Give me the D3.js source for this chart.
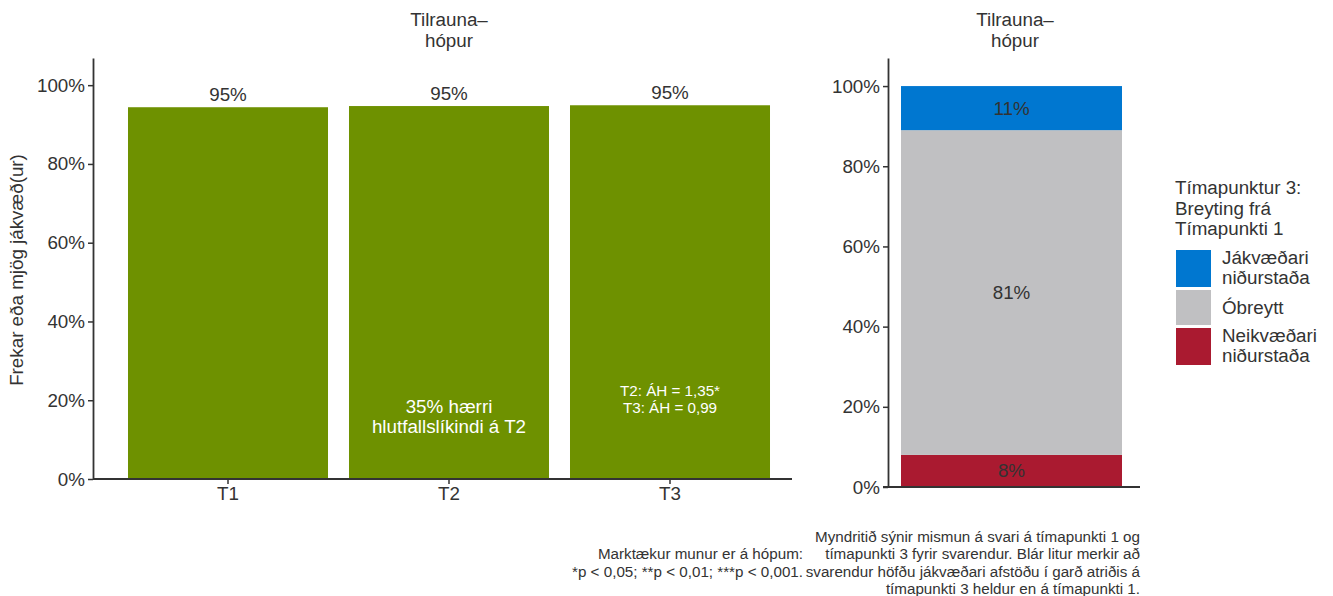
<!DOCTYPE html>
<html>
  <head>
    <meta charset="utf-8">
    <title>Tilraunahópur</title>
    <script src="https://cdnjs.cloudflare.com/ajax/libs/d3/7.8.5/d3.min.js"></script>
    <style>
      body { margin: 0; background: #fff; }
      text { font-family: "Liberation Sans", Arial, sans-serif; fill: #333; }
    </style>
  </head>
  <body>
    <script>
      // data
      var timepoints = ["T1", "T2", "T3"];
      var positiveShare = [0.944, 0.947, 0.949];
      var barLabels = ["95%", "95%", "95%"];
      var yTicks = [0, 0.2, 0.4, 0.6, 0.8, 1.0];

      var changeCats = ["Neikvæðari niðurstaða", "Óbreytt", "Jákvæðari niðurstaða"];
      var changeValues = [0.08, 0.81, 0.11];
      var changeLabels = ["8%", "81%", "11%"];
      var changeColors = ["#aa1a30", "#c0c0c2", "#0077d0"];
      var legendOrder = [2, 1, 0];

      var FS = "18.8px";

      var svg = d3.select("body").append("svg")
        .attr("width", 1333)
        .attr("height", 596);

      var pct = d3.format(".0%");

      // ---- left panel
      var x = d3.scaleBand().domain(timepoints)
        .range([117.5, 780.5]).paddingInner(0.095).paddingOuter(0.0475);
      var y = d3.scaleLinear().domain([0, 1.069]).range([479, 58]);

      var left = svg.append("g");
      left.selectAll("rect").data(timepoints).enter().append("rect")
        .attr("x", function (d) { return x(d); })
        .attr("width", x.bandwidth())
        .attr("y", function (d, i) { return y(positiveShare[i]); })
        .attr("height", function (d, i) { return y(0) - y(positiveShare[i]); })
        .attr("fill", "#6e9100");

      left.selectAll("text.val").data(timepoints).enter().append("text")
        .attr("class", "val")
        .attr("x", function (d) { return x(d) + x.bandwidth() / 2; })
        .attr("y", function (d, i) { return y(positiveShare[i]) - 6; })
        .attr("text-anchor", "middle")
        .style("font-size", FS)
        .text(function (d, i) { return barLabels[i]; });

      svg.append("g").attr("transform", "translate(93,0)")
        .call(d3.axisLeft(y).tickValues(yTicks).tickFormat(pct).tickSize(5).tickSizeOuter(0));
      var xAxisL = svg.append("g").attr("transform", "translate(0,479)")
        .call(d3.axisBottom(x).tickSize(5).tickSizeOuter(0));
      xAxisL.select(".domain").attr("d", "M93,0H792");

      // annotations inside bars
      var ann = svg.append("g");
      ann.append("text").attr("x", x("T2") + x.bandwidth() / 2).attr("y", 413)
        .attr("text-anchor", "middle").style("font-size", FS).style("fill", "#fff")
        .text("35% hærri");
      ann.append("text").attr("x", x("T2") + x.bandwidth() / 2).attr("y", 433)
        .attr("text-anchor", "middle").style("font-size", FS).style("fill", "#fff")
        .text("hlutfallslíkindi á T2");
      ann.append("text").attr("x", x("T3") + x.bandwidth() / 2).attr("y", 396)
        .attr("text-anchor", "middle").style("font-size", "15.2px").style("fill", "#fff")
        .text("T2: ÁH = 1,35*");
      ann.append("text").attr("x", x("T3") + x.bandwidth() / 2).attr("y", 413)
        .attr("text-anchor", "middle").style("font-size", "15.2px").style("fill", "#fff")
        .text("T3: ÁH = 0,99");

      // titles
      function title(cx) {
        var t = svg.append("text").attr("text-anchor", "middle").style("font-size", FS);
        t.append("tspan").attr("x", cx).attr("y", 26).text("Tilrauna–");
        t.append("tspan").attr("x", cx).attr("y", 47).text("hópur");
      }
      title(449);
      title(1015);

      svg.append("text")
        .attr("transform", "translate(23,270) rotate(-90)")
        .attr("text-anchor", "middle")
        .style("font-size", FS)
        .text("Frekar eða mjög jákvæð(ur)");

      // ---- right panel (stacked)
      var yr = d3.scaleLinear().domain([0, 1.07]).range([487, 58]);

      var stackData = [{}];
      changeCats.forEach(function (c, i) { stackData[0][c] = changeValues[i]; });
      var series = d3.stack().keys(changeCats)(stackData);

      var right = svg.append("g");
      right.selectAll("rect").data(series).enter().append("rect")
        .attr("x", 901)
        .attr("width", 221)
        .attr("y", function (s) { return yr(s[0][1]); })
        .attr("height", function (s) { return yr(s[0][0]) - yr(s[0][1]); })
        .attr("fill", function (s, i) { return changeColors[i]; });

      right.selectAll("text").data(series).enter().append("text")
        .attr("x", 1011.5)
        .attr("y", function (s) { return yr((s[0][0] + s[0][1]) / 2) + 6.5; })
        .attr("text-anchor", "middle")
        .style("font-size", FS)
        .text(function (s, i) { return changeLabels[i]; });

      svg.append("g").attr("transform", "translate(888,0)")
        .call(d3.axisLeft(yr).tickValues(yTicks).tickFormat(pct).tickSize(5).tickSizeOuter(0));
      svg.append("line").attr("x1", 883).attr("x2", 1140).attr("y1", 487).attr("y2", 487)
        .attr("stroke", "#333").attr("stroke-width", 1.8);

      // axis styling
      svg.selectAll(".domain").attr("stroke", "#333").attr("stroke-width", 1.8);
      svg.selectAll(".tick line").attr("stroke", "#333").attr("stroke-width", 1.5);
      svg.selectAll(".tick text").style("font-size", FS).style("fill", "#333")
        .attr("font-family", null);

      // ---- legend
      var lg = svg.append("g");
      ["Tímapunktur 3:", "Breyting frá", "Tímapunkti 1"].forEach(function (t, i) {
        lg.append("text").attr("x", 1175).attr("y", 194 + i * 20.5).style("font-size", FS).text(t);
      });
      var keyY = [250, 290, 328];
      var keyLabels = [["Jákvæðari", "niðurstaða"], ["Óbreytt"], ["Neikvæðari", "niðurstaða"]];
      legendOrder.forEach(function (ci, k) {
        lg.append("rect").attr("x", 1176).attr("y", keyY[k]).attr("width", 35)
          .attr("height", k === 1 ? 35 : 37).attr("fill", changeColors[ci]);
        keyLabels[k].forEach(function (t, j) {
          var n = keyLabels[k].length;
          lg.append("text").attr("x", 1222)
            .attr("y", keyY[k] + 24 - (n - 1) * 10 + j * 20)
            .style("font-size", FS).text(t);
        });
      });

      // ---- captions
      var cap = svg.append("g");
      ["Myndritið sýnir mismun á svari á tímapunkti 1 og",
       "tímapunkti 3 fyrir svarendur. Blár litur merkir að",
       "svarendur höfðu jákvæðari afstöðu í garð atriðis á",
       "tímapunkti 3 heldur en á tímapunkti 1."].forEach(function (t, i) {
        cap.append("text").attr("x", 1140).attr("y", 542 + i * 17.3)
          .attr("text-anchor", "end").style("font-size", "15.2px").text(t);
      });
      ["Marktækur munur er á hópum:", "*p < 0,05; **p < 0,01; ***p < 0,001."].forEach(function (t, i) {
        cap.append("text").attr("x", 803).attr("y", 559.3 + i * 17.3)
          .attr("text-anchor", "end").style("font-size", "15.2px").text(t);
      });
    </script>
  </body>
</html>
